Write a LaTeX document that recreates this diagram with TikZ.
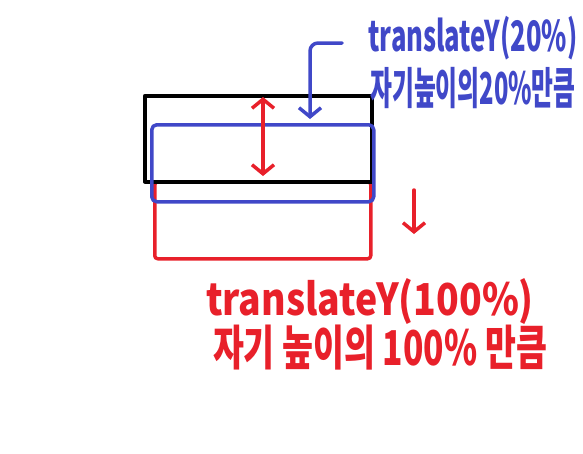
\documentclass[tikz,border=0pt]{standalone}
\usepackage{fontspec}
\setmainfont{Noto Sans CJK KR}
\usetikzlibrary{positioning,arrows.meta}
\definecolor{penblue}{RGB}{64,72,200}
\definecolor{penred}{RGB}{232,32,42}

\begin{document}
\begin{tikzpicture}[x=1pt,y=-1pt,>={Straight Barb[length=9pt,width=22pt]},line width=3.5pt,line cap=round,line join=round]
  \useasboundingbox (0,0) rectangle (583,453);
  \node[draw=penred,inner sep=0,minimum width=216pt,minimum height=77pt,anchor=north west,rounded corners=3pt] (moved) at (153,180) {};
  \node[draw=black,inner sep=0,minimum width=227pt,minimum height=86pt,anchor=north west] (orig) at (143,94) {};
  \node[draw=penblue,inner sep=0,minimum width=222pt,minimum height=77pt,anchor=north west,rounded corners=5pt] (lifted) at (150,123) {};
  \coordinate (gapTop) at (263,97);
  \coordinate (gapBot) at (263,176);
  \coordinate (noteStart) at (342,43);
  \coordinate (noteEnd) at (310,119);
  \coordinate (downTop) at (414,190);
  \coordinate (downBot) at (414,234);
  \node[text=penblue,font=\fontsize{42}{42}\selectfont\bfseries,inner sep=0] (blueNote) at (473,38) {\scalebox{0.61}[1]{translateY(20\%)}};
  \node[text=penblue,font=\fontsize{44}{44}\selectfont\bfseries,inner sep=0] (blueNoteKo) at (473,88) {\scalebox{0.54}[1]{자기높이의20\%만큼}};
  \node[text=penred,font=\fontsize{44}{44}\selectfont\bfseries,inner sep=0] (redNote) at (370,302) {\scalebox{0.85}[1]{translateY(100\%)}};
  \node[text=penred,font=\fontsize{48}{48}\selectfont\bfseries,inner sep=0] (redNoteKo) at (380,348) {\scalebox{0.70}[1]{자기 높이의 100\% 만큼}};
  \draw[penred,<->] (gapTop) -- (gapBot);
  \draw[penblue,->,rounded corners=8pt] (noteStart) -| (noteEnd);
  \draw[penred,->] (downTop) -- (downBot);
\end{tikzpicture}
\end{document}
